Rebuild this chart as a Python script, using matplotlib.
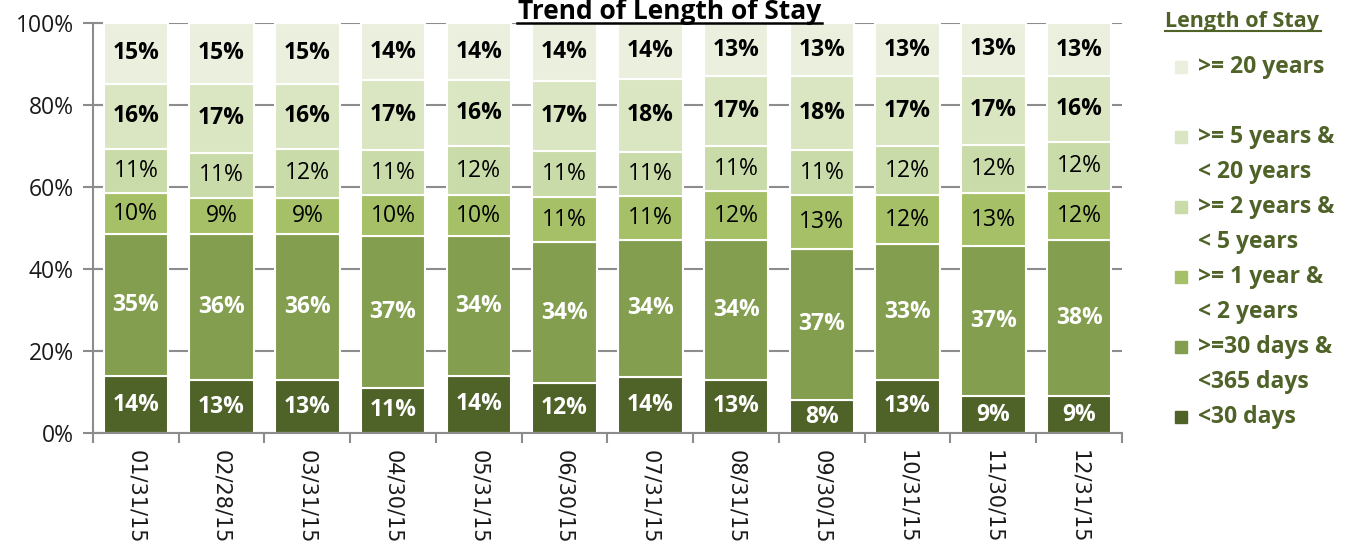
import numpy as np
import matplotlib
matplotlib.use("Agg")
import matplotlib.pyplot as plt
from matplotlib.patches import Rectangle

## Data (bottom segment first)
dates = ['01/31/15', '02/28/15', '03/31/15', '04/30/15', '05/31/15', '06/30/15',
         '07/31/15', '08/31/15', '09/30/15', '10/31/15', '11/30/15', '12/31/15']
lt30d = [14, 13, 13, 11, 14, 12, 14, 13, 8, 13, 9, 9]              # <30 days
d30_365 = [35, 36, 36, 37, 34, 34, 34, 34, 37, 33, 37, 38]        # >=30 days & <365 days
y1_2 = [10, 9, 9, 10, 10, 11, 11, 12, 13, 12, 13, 12]              # >= 1 year & < 2 years
y2_5 = [11, 11, 12, 11, 12, 11, 11, 11, 11, 12, 12, 12]            # >= 2 years & < 5 years
y5_20 = [16, 17, 16, 17, 16, 17, 18, 17, 18, 17, 17, 16]           # >= 5 years & < 20 years
ge20 = [15, 15, 15, 14, 14, 14, 14, 13, 13, 13, 13, 13]            # >= 20 years

series = [lt30d, d30_365, y1_2, y2_5, y5_20, ge20]
names = ['<30 days', '>=30 days &\n<365 days', '>= 1 year &\n< 2 years',
         '>= 2 years &\n< 5 years', '>= 5 years &\n< 20 years', '>= 20 years']
colors = ['#4F6228', '#839E4F', '#A6C068', '#C9DBA8', '#DAE5C2', '#EBF0DE']
lbl_color = ['white', 'white', 'black', 'black', 'black', 'black']
lbl_weight = ['bold', 'bold', 'normal', 'normal', 'bold', 'bold']

vals = np.array(series, dtype=float)
share = vals / vals.sum(axis=0) * 100                                 # 100% stacked

olive = '#4F6228'
W, H = 1363, 542
fig = plt.figure(figsize=(W / 100, H / 100), dpi=100)
ax = fig.add_axes([93 / W, 1 - 433 / H, (1122 - 93) / W, (433 - 23) / H])

x = np.arange(len(dates))
bottom = np.zeros(len(dates))
for i in range(len(series)):
    ax.bar(x, share[i], 0.75, bottom=bottom, color=colors[i],
           edgecolor='white', linewidth=1.5, zorder=2)
    for j in range(len(dates)):
        ax.text(x[j], bottom[j] + share[i][j] / 2, '%d%%' % series[i][j],
                ha='center', va='center', fontsize=16.5, family='Open Sans',
                color=lbl_color[i], fontweight=lbl_weight[i], zorder=3)
    bottom += share[i]

ax.set_xlim(-0.5, len(dates) - 0.5)
ax.set_ylim(0, 100)
ax.set_yticks(np.arange(0, 101, 20))
ax.set_yticklabels(['%d%%' % v for v in range(0, 101, 20)], fontsize=16.5,
                   family='Open Sans', color='#1A1A1A')
ax.yaxis.grid(True, color='#8C8C8C', linewidth=1.5, zorder=0)
ax.set_axisbelow(True)

ax.set_xticks(x)
ax.set_xticklabels(dates, rotation=270, fontsize=15, color='#1A1A1A')
ax.set_xticks(np.arange(-0.5, len(dates)), minor=True)
ax.tick_params(axis='x', which='major', length=0, pad=12)
ax.tick_params(axis='x', which='minor', length=7, color='#8C8C8C', width=1.5)
ax.tick_params(axis='y', length=14, direction='inout', color='#8C8C8C',
               width=1.5, pad=7)

for s in ['top', 'right']:
    ax.spines[s].set_visible(False)
for s in ['left', 'bottom']:
    ax.spines[s].set_color('#8C8C8C')
    ax.spines[s].set_linewidth(1.5)

fig.text(670 / W, 1 - 19 / H, 'Trend of Length of Stay', ha='center',
         va='baseline', fontsize=19, fontweight='bold', family='Open Sans')
fig.add_artist(plt.Line2D([517 / W, 822 / W], [1 - 23 / H, 1 - 23 / H],
                          color='black', linewidth=1.8))

# Legend drawn by hand to match the layout
fig.text(1165 / W, 1 - 27 / H, 'Length of Stay', ha='left', va='baseline',
         fontsize=15.5, fontweight='bold', color=olive, family='Open Sans')
fig.add_artist(plt.Line2D([1165 / W, 1321 / W], [1 - 31 / H, 1 - 31 / H],
                          color=olive, linewidth=1.5))
leg_y = [417, 347, 277, 207, 137, 67]                                  # pixel rows of entries
for i in range(len(series)):
    yy = 1 - leg_y[i] / H
    fig.add_artist(Rectangle((1175 / W, yy - 6 / H), 12 / W, 12 / H,
                             color=colors[i], transform=fig.transFigure))
    for k, ln in enumerate(names[i].split('\n')):
        fig.text(1198 / W, yy - k * 35 / H, ln, ha='left', va='center',
                 fontsize=16.5, fontweight='bold', color=olive, family='Open Sans')

fig.savefig('out.png', dpi=100)
